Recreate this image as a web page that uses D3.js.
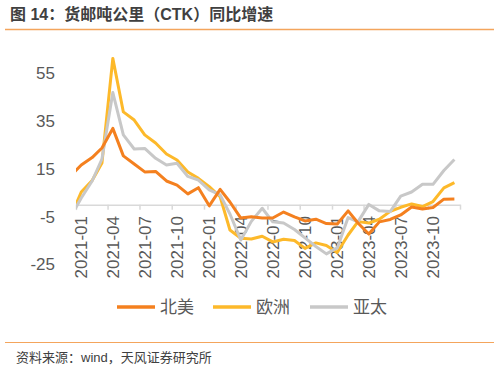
<!DOCTYPE html>
<html>
<head>
    <meta charset="utf-8">
    <title>货邮吨公里同比增速</title>
    <script src="https://d3js.org/d3.v7.min.js"></script>
    <style>
        body { margin: 0; background: #fff; }
        text { font-family: "Liberation Sans", Arial, "Noto Sans CJK SC", sans-serif; }
    </style>
</head>
<body>
    <svg width="499" height="371"></svg>
    <script>
        // monthly data, first point (2020-12) sits left of the axis and gets clipped
        const months = ["2020-12",
            "2021-01","2021-02","2021-03","2021-04","2021-05","2021-06","2021-07","2021-08","2021-09","2021-10","2021-11","2021-12",
            "2022-01","2022-02","2022-03","2022-04","2022-05","2022-06","2022-07","2022-08","2022-09","2022-10","2022-11","2022-12",
            "2023-01","2023-02","2023-03","2023-04","2023-05","2023-06","2023-07","2023-08","2023-09","2023-10","2023-11","2023-12"]
        const northAmerica = [11.9,
            16.6, 19.7, 23.7, 31.9, 20.4, 17.0, 13.7, 13.9, 9.9, 8.2, 4.5, 7.1,
            -0.5, 6.4, 1.1, -5.6, -5.1, -5.6, -5.6, -3.1, -5.1, -6.8, -6.1, -7.9,
            -8.1, -2.6, -7.7, -12.3, -7.2, -6.2, -4.3, -1.0, -1.8, -1.2, 2.3, 2.4]
        const europe = [-5.3,
            5.3, 10.1, 17.4, 61.2, 38.8, 35.4, 29.2, 25.8, 21.2, 18.7, 13.7, 11.0,
            7.5, 3.3, -10.6, -14.1, -14.4, -13.2, -15.6, -14.5, -15.0, -18.3, -16.0, -17.1,
            -20.0, -12.7, -7.1, -7.7, -6.1, -2.8, -1.1, 0.3, -0.8, 1.3, 7.0, 9.2]
        const asiaPacific = [-5.4,
            2.8, 9.9, 19.1, 46.9, 29.2, 23.3, 23.5, 19.4, 16.6, 17.3, 11.8, 10.3,
            6.2, 4.1, -3.9, -14.8, -7.0, -1.5, -7.2, -7.7, -10.4, -13.9, -17.5, -20.6,
            -18.1, -5.4, -7.2, 0.1, -2.6, -2.9, 3.6, 5.3, 8.5, 8.5, 14.3, 18.9]
        const seriesNames = ["北美", "欧洲", "亚太"]
        const seriesColors = ["#F4801F", "#FDB92A", "#C8C8C8"]
        const yTicks = [55, 35, 15, -5, -25]
        const xTickLabels = ["2021-01","2021-04","2021-07","2021-10","2022-01","2022-04",
            "2022-07","2022-10","2023-01","2023-04","2023-07","2023-10"]

        const svg = d3.select("svg")

        const parseMonth = d3.timeParse("%Y-%m")
        const midMonth = function(s) {
            const d = parseMonth(s)
            return new Date(d.getFullYear(), d.getMonth(), 16)
        }

        const plotLeft = 76, plotRight = 460
        const x = d3.scaleTime()
            .domain([new Date(2021, 0, 1), new Date(2024, 0, 1)])
            .range([plotLeft, plotRight])
        const y = d3.scaleLinear()
            .domain([-25, 65])
            .range([264.4, 49.3])

        // title
        svg.append("text")
            .attr("x", 10).attr("y", 20)
            .attr("font-size", 16).attr("font-weight", "bold")
            .attr("fill", "#404040")
            .text("图 14：货邮吨公里（CTK）同比增速")
        svg.append("line")
            .attr("x1", 5).attr("x2", 494).attr("y1", 29.5).attr("y2", 29.5)
            .attr("stroke", "#F4A55C").attr("stroke-width", 1.5)

        // y labels (no axis line)
        svg.append("g").selectAll("text")
            .data(yTicks)
            .join("text")
            .attr("x", 55)
            .attr("y", function(d) { return y(d) })
            .attr("dy", "0.35em")
            .attr("text-anchor", "end")
            .attr("font-size", 17)
            .attr("fill", "#595959")
            .text(function(d) { return d })

        // x axis at zero
        const tickDates = d3.timeMonth.every(3).range(new Date(2021, 0, 1), new Date(2024, 0, 2))
        const xAxis = svg.append("g")
            .attr("transform", "translate(0," + y(0) + ")")
            .call(d3.axisBottom(x).tickValues(tickDates).tickSize(5).tickFormat("").tickSizeOuter(0))
        xAxis.select(".domain").attr("stroke", "#D9D9D9").attr("stroke-width", 1.5)
        xAxis.selectAll(".tick line").attr("stroke", "#D9D9D9").attr("stroke-width", 1.5)

        svg.append("g").selectAll("text")
            .data(xTickLabels)
            .join("text")
            .attr("transform", function(d) {
                return "translate(" + x(midMonth(d)) + ",216) rotate(-90)"
            })
            .attr("dy", "0.35em")
            .attr("text-anchor", "end")
            .attr("font-size", 17)
            .attr("fill", "#595959")
            .text(function(d) { return d })

        // lines
        svg.append("clipPath").attr("id", "plot")
            .append("rect")
            .attr("x", plotLeft).attr("y", 35)
            .attr("width", plotRight - plotLeft).attr("height", 240)

        const allSeries = [northAmerica, europe, asiaPacific]
        const line = d3.line()
            .x(function(d, i) { return x(midMonth(months[i])) })
            .y(function(d) { return y(d) })

        svg.append("g").attr("clip-path", "url(#plot)")
            .selectAll("path")
            .data(allSeries)
            .join("path")
            .attr("fill", "none")
            .attr("stroke", function(d, i) { return seriesColors[i] })
            .attr("stroke-width", 3)
            .attr("stroke-linejoin", "round")
            .attr("d", line)
            // draw order: grey behind? keep orange on top like the source
        svg.select("g[clip-path] path:nth-child(1)").raise()

        // legend
        const legendX = [117, 213, 310]
        const legend = svg.append("g").selectAll("g")
            .data(seriesNames)
            .join("g")
            .attr("transform", function(d, i) { return "translate(" + legendX[i] + ",307)" })
        legend.append("line")
            .attr("x1", 0).attr("x2", 38)
            .attr("stroke", function(d, i) { return seriesColors[i] })
            .attr("stroke-width", 3.5)
        legend.append("text")
            .attr("x", 43).attr("dy", "0.35em")
            .attr("font-size", 17).attr("fill", "#595959")
            .text(function(d) { return d })

        // footer
        svg.append("line")
            .attr("x1", 5).attr("x2", 494).attr("y1", 342.5).attr("y2", 342.5)
            .attr("stroke", "#F4A55C").attr("stroke-width", 1)
        svg.append("text")
            .attr("x", 16).attr("y", 362)
            .attr("font-size", 13).attr("fill", "#404040")
            .text("资料来源：wind，天风证券研究所")
    </script>
</body>
</html>
